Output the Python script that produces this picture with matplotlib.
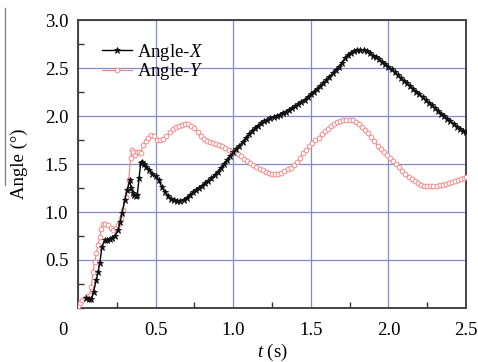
import matplotlib
matplotlib.use("Agg")
import matplotlib.pyplot as plt
from matplotlib.lines import Line2D
from matplotlib.ticker import MultipleLocator
from matplotlib.transforms import ScaledTranslation

plt.rcParams['font.family'] = ['Liberation Serif', 'DejaVu Serif']
plt.rcParams['mathtext.fontset'] = 'custom'
plt.rcParams['mathtext.rm'] = 'Liberation Serif'
plt.rcParams['mathtext.it'] = 'Liberation Serif:italic'

t_x = [0.05, 0.07, 0.086, 0.10, 0.118, 0.13, 0.14, 0.155, 0.172, 0.19, 0.204, 0.22,
       0.236, 0.258, 0.272, 0.284, 0.301, 0.318, 0.333, 0.343, 0.352, 0.361, 0.372,
       0.382, 0.393, 0.404, 0.414, 0.427,
       0.44, 0.46, 0.48, 0.50, 0.52, 0.54, 0.56, 0.58, 0.60, 0.62, 0.64, 0.66, 0.68,
       0.70, 0.72, 0.74, 0.76, 0.78, 0.80, 0.82, 0.84, 0.86, 0.88, 0.90, 0.92, 0.94,
       0.96, 0.98, 1.00, 1.02, 1.04, 1.06, 1.08, 1.10, 1.12, 1.14, 1.16, 1.18, 1.20,
       1.22, 1.24, 1.26, 1.28, 1.30, 1.32, 1.34, 1.36, 1.38, 1.40, 1.42, 1.44, 1.46,
       1.48, 1.50, 1.52, 1.54, 1.56, 1.58, 1.60, 1.62, 1.64, 1.66, 1.68, 1.70, 1.72,
       1.74, 1.76, 1.78, 1.80, 1.82, 1.84, 1.86, 1.88, 1.90, 1.92, 1.94, 1.96, 1.98,
       2.00, 2.02, 2.04, 2.06, 2.08, 2.10, 2.12, 2.14, 2.16, 2.18, 2.20, 2.22, 2.24,
       2.26, 2.28, 2.30, 2.32, 2.34, 2.36, 2.38, 2.40, 2.42, 2.44, 2.46, 2.48, 2.50]
angle_x = [0.10, 0.09, 0.09, 0.17, 0.29, 0.38, 0.465, 0.64, 0.71, 0.71, 0.72, 0.73,
           0.75, 0.81, 0.90, 0.99, 1.125, 1.23, 1.33, 1.25, 1.20, 1.18, 1.17,
           1.18, 1.35, 1.51, 1.525, 1.50,
           1.47, 1.44, 1.40, 1.375, 1.33, 1.26, 1.21, 1.165, 1.135, 1.12, 1.115, 1.115, 1.13,
           1.15, 1.175, 1.205, 1.225, 1.25, 1.275, 1.30, 1.325, 1.355, 1.385, 1.42, 1.46, 1.50,
           1.54, 1.58, 1.62, 1.655, 1.69, 1.73, 1.77, 1.81, 1.84, 1.875, 1.90, 1.925, 1.945,
           1.96, 1.975, 1.99, 2.00, 2.015, 2.03, 2.045, 2.065, 2.08, 2.10, 2.12, 2.145, 2.17,
           2.195, 2.225, 2.255, 2.285, 2.31, 2.34, 2.37, 2.41, 2.445, 2.475, 2.51, 2.555, 2.60,
           2.635, 2.66, 2.675, 2.685, 2.69, 2.69, 2.68, 2.655, 2.63, 2.61, 2.59, 2.565, 2.54,
           2.515, 2.485, 2.455, 2.425, 2.395, 2.365, 2.34, 2.31, 2.28, 2.255, 2.225, 2.195, 2.165,
           2.14, 2.11, 2.08, 2.055, 2.025, 1.995, 1.97, 1.945, 1.92, 1.89, 1.865, 1.845, 1.83]

t_y = [0.0, 0.011, 0.025, 0.043, 0.06, 0.075, 0.086, 0.097, 0.108, 0.118, 0.13, 0.14,
       0.15, 0.161, 0.177, 0.193, 0.21, 0.226, 0.242, 0.258, 0.275, 0.29, 0.311,
       0.326, 0.339, 0.348, 0.356, 0.365, 0.382, 0.393, 0.404, 0.419, 0.435,
       0.451, 0.47, 0.49, 0.51, 0.53, 0.55, 0.57, 0.59, 0.61, 0.63, 0.65, 0.67, 0.69,
       0.71, 0.73, 0.75, 0.77, 0.79, 0.81, 0.83, 0.85, 0.87, 0.89, 0.91, 0.93, 0.95,
       0.97, 0.99, 1.01, 1.03, 1.05, 1.07, 1.09, 1.11, 1.13, 1.15, 1.17, 1.19, 1.21,
       1.23, 1.25, 1.27, 1.29, 1.31, 1.33, 1.35, 1.37, 1.39, 1.41, 1.43, 1.45, 1.47,
       1.49, 1.51, 1.53, 1.55, 1.57, 1.59, 1.61, 1.63, 1.65, 1.67, 1.69, 1.71, 1.73,
       1.75, 1.77, 1.79, 1.81, 1.83, 1.85, 1.87, 1.89, 1.91, 1.93, 1.95, 1.97, 1.99,
       2.01, 2.03, 2.05, 2.07, 2.09, 2.11, 2.13, 2.15, 2.17, 2.19, 2.21, 2.23, 2.25,
       2.27, 2.29, 2.31, 2.33, 2.35, 2.37, 2.39, 2.41, 2.43, 2.45, 2.47, 2.49, 2.50]
angle_y = [0.02, 0.05, 0.08, 0.10, 0.12, 0.135, 0.22, 0.38, 0.48, 0.57, 0.66, 0.74,
           0.82, 0.88, 0.88, 0.865, 0.83, 0.81, 0.83, 0.865, 0.94, 1.02, 1.16,
           1.33, 1.56, 1.65, 1.62, 1.59, 1.63, 1.62, 1.61, 1.70, 1.74,
           1.77, 1.80, 1.79, 1.75, 1.745, 1.76, 1.79, 1.83, 1.865, 1.885, 1.90, 1.91, 1.92,
           1.92, 1.90, 1.87, 1.83, 1.79, 1.76, 1.74, 1.73, 1.72, 1.71, 1.70, 1.685, 1.67,
           1.65, 1.635, 1.62, 1.60, 1.58, 1.555, 1.535, 1.51, 1.49, 1.47, 1.45, 1.435, 1.42,
           1.41, 1.40, 1.40, 1.40, 1.41, 1.43, 1.45, 1.46, 1.49, 1.52, 1.565, 1.61, 1.65,
           1.69, 1.72, 1.745, 1.77, 1.81, 1.84, 1.865, 1.895, 1.92, 1.935, 1.945, 1.955, 1.96,
           1.96, 1.955, 1.94, 1.915, 1.885, 1.855, 1.82, 1.78, 1.735, 1.69, 1.655, 1.625, 1.595,
           1.56, 1.53, 1.50, 1.465, 1.43, 1.395, 1.365, 1.34, 1.32, 1.30, 1.285, 1.275, 1.27,
           1.27, 1.27, 1.275, 1.28, 1.285, 1.29, 1.30, 1.31, 1.32, 1.33, 1.34, 1.355, 1.36]

x_ticks = [0, 0.5, 1.0, 1.5, 2.0, 2.5]
x_ticklabels = ['0', '0.5', '1.0', '1.5', '2.0', '2.5']
y_ticks = [0.5, 1.0, 1.5, 2.0, 2.5, 3.0]
y_ticklabels = ['0.5', '1.0', '1.5', '2.0', '2.5', '3.0']

fig = plt.figure(figsize=(4.78, 3.62), dpi=100)
ax = fig.add_axes([78/478, 54/362, 388/478, 288/362])

ax.plot(t_x, angle_x, color='black', lw=1.0, marker='*', ms=5, mec='#111111',
        mfc='#111111', mew=0.6, label=r'Angle-$\mathit{X}$', zorder=4)
ax.plot(t_y, angle_y, color='#f38080', lw=0.8, marker='o', ms=3.4, mec='#f38a8a',
        mfc='white', mew=0.7, label=r'Angle-$\mathit{Y}$', zorder=3)

ax.set_xlim(0, 2.5)
ax.set_ylim(0, 3.0)
ax.set_xticks(x_ticks)
ax.set_xticklabels(x_ticklabels)
ax.set_yticks(y_ticks)
ax.set_yticklabels(y_ticklabels)
ax.xaxis.set_minor_locator(MultipleLocator(0.25))
ax.yaxis.set_minor_locator(MultipleLocator(0.25))
ax.tick_params(which='both', direction='in', labelsize=13.5, colors='#333333',
               labelcolor='black')
ax.tick_params(which='major', length=0)
ax.tick_params(which='minor', length=4, width=1)
ax.tick_params(axis='x', pad=10)
ax.tick_params(axis='y', pad=7)
ax.grid(True, which='major', color='#8888cc', lw=0.9)
for s in ax.spines.values():
    s.set_color('#444444')
    s.set_linewidth(1.4)

# shift the "0" label left as in the reference
fig.canvas.draw()
lbl0 = ax.get_xticklabels()[0]
lbl0.set_transform(lbl0.get_transform() + ScaledTranslation(-15/100, 0, fig.dpi_scale_trans))

ax.set_xlabel(r'$\mathit{t}$ (s)', fontsize=13.5, labelpad=2)
ax.set_ylabel('Angle (°)', fontsize=13.5, labelpad=12)

leg = ax.legend(loc='upper left', bbox_to_anchor=(0.062, 0.925), frameon=False,
                fontsize=13.5, handlelength=1.6, handletextpad=0.25,
                labelspacing=-0.08, borderaxespad=0, borderpad=0)

fig.add_artist(Line2D([5/478, 5/478], [1 - 8/362, 1 - 185/362], color='#888888', lw=1))

fig.savefig('out.png', dpi=100)
